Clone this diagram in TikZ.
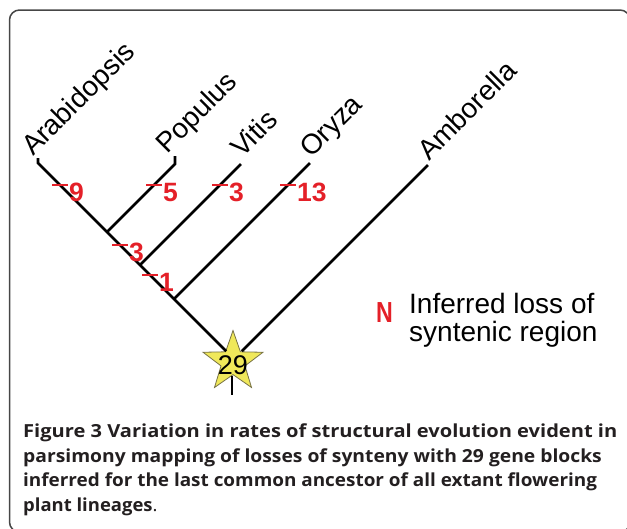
\documentclass[tikz,border=0pt]{standalone}
\usepackage{fontspec}
\setmainfont{Liberation Sans}
\newfontfamily\capfont{Open Sans}
\usetikzlibrary{shapes.geometric}
\definecolor{markred}{RGB}{228,32,40}
\definecolor{staryellow}{RGB}{240,232,90}
\definecolor{starline}{RGB}{120,115,70}
\definecolor{framegray}{RGB}{70,70,70}
\definecolor{captext}{RGB}{35,31,32}
\newcommand{\capwide}[2]{\scalebox{#1}[1]{#2}}
\begin{document}
\begin{tikzpicture}[x=1pt,y=-1pt,
  branch/.style={line width=2.6pt},
  taxon/.style={rotate=45, anchor=base west, inner sep=0pt, font=\fontsize{28}{28}\selectfont},
  tickmark/.style={draw=markred, line width=2.2pt},
  count/.style={text=markred, anchor=north west, inner sep=0pt, font=\fontsize{26.5}{26.5}\selectfont\bfseries},
  legendtxt/.style={anchor=base west, inner sep=0pt, font=\fontsize{28}{28}\selectfont},
  capline/.style={anchor=base west, inner sep=0pt, text=captext, font=\capfont\fontsize{18}{20}\selectfont\bfseries},
]
\useasboundingbox (0,0) rectangle (627,528);
% frame
\draw[framegray, line width=1.5pt, rounded corners=10pt] (9.5,10) rectangle (630,532);

% star at root
\node[star, star points=5, star point ratio=2.5, minimum size=63pt, inner sep=0pt,
      fill=staryellow, draw=starline, line width=0.8pt] (star) at (233,362) {};

% tree coordinates
\coordinate (R) at (234,359);
\coordinate (tA) at (38,163);   \coordinate (sA) at (38,158);
\coordinate (jP) at (107,232);  \coordinate (tP) at (175,164); \coordinate (sP) at (175,156);
\coordinate (jV) at (140,265);  \coordinate (tV) at (241,164);
\coordinate (jO) at (174,299);  \coordinate (tO) at (310,163);
\coordinate (tAm) at (428,165);
\coordinate (rootin) at (232,376);
\coordinate (rootbot) at (232,395);

% branches
\draw[branch, shorten <=11pt] (R) -- (tA) -- (sA);
\draw[branch, shorten <=11pt] (R) -- (tAm);
\draw[branch] (jP) -- (tP) -- (sP);
\draw[branch] (jV) -- (tV);
\draw[branch] (jO) -- (tO);
\draw[branch] (rootin) -- (rootbot);

% root count
\node[inner sep=0pt, font=\fontsize{27}{27}\selectfont] (n29) at (233,365) {29};

% taxon labels
\node[taxon] (lA) at (33,157) {Arabidopsis};
\node[taxon] (lP) at (167,155) {Populus};
\node[taxon] (lV) at (242,159) {Vitis};
\node[taxon] (lO) at (311,159) {Oryza};
\node[taxon] (lAm) at (429,162) {Amborella};

% loss marks
\coordinate (m9) at (60,185);
\coordinate (m5) at (154,185);
\coordinate (m3v) at (220,185);
\coordinate (m13) at (288,185);
\coordinate (m3i) at (120,245);
\coordinate (m1) at (150,275);
\foreach \m in {m9,m5,m3v,m13,m3i,m1}{
  \draw[tickmark] (\m) ++(-8,0) -- ++(16,0);
}
\node[count] (c9) at ([shift={(9,-2)}]m9) {9};
\node[count] (c5) at ([shift={(9,-2)}]m5) {5};
\node[count] (c3v) at ([shift={(9,-2)}]m3v) {3};
\node[count] (c13) at ([shift={(9,-2)}]m13) {13};
\node[count] (c3i) at ([shift={(9,-2)}]m3i) {3};
\node[count] (c1) at ([shift={(9,-2)}]m1) {1};

% legend
\node[text=markred, anchor=north west, inner sep=0pt, font=\fontsize{29}{29}\selectfont\bfseries] (legN) at (376,302) {\scalebox{0.8}[1]{N}};
\node[legendtxt] (leg1) at (409,313.3) {Inferred loss of};
\node[legendtxt] (leg2) at (409,341.7) {syntenic region};

% caption
\node[capline] (cap1) at (23,437.5) {\capwide{1.115}{Figure 3 Variation in rates of structural evolution evident in}};
\node[capline] (cap2) at (23,462) {\capwide{1.071}{parsimony mapping of losses of synteny with 29 gene blocks}};
\node[capline] (cap3) at (23,486.7) {\capwide{1.051}{inferred for the last common ancestor of all extant flowering}};
\node[capline] (cap4) at (23,511.3) {\capwide{1.026}{plant lineages{\mdseries.}}};
\end{tikzpicture}
\end{document}
